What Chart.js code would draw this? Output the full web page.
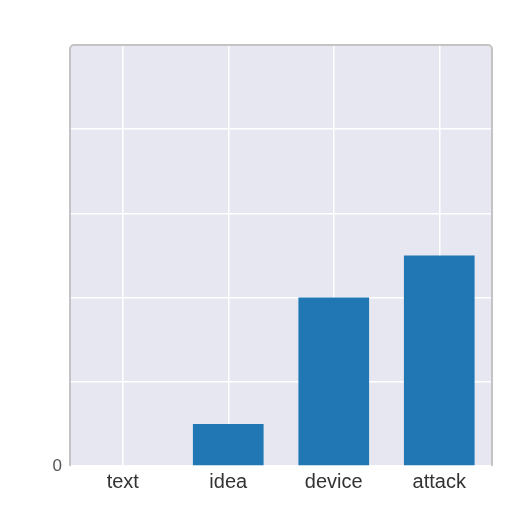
<!DOCTYPE html>
<html>
<head>
<meta charset="UTF-8">
<style>
  html,body{margin:0;padding:0;background:#fff;}
  #wrap{width:512px;height:512px;}
</style>
<script src="https://cdn.jsdelivr.net/npm/chart.js"></script>
</head>
<body>
<div id="wrap"><canvas id="c" width="512" height="512"></canvas></div>
<script>
/* data */
const categories=["text","idea","device","attack"];
const counts=[0,0.5,2,2.5];
const yTicks=[0,1,2,3,4,5];

/* plot background + rounded frame */
const panel={
  id:"panel",
  beforeDraw(ch){
    const {ctx,chartArea:a}=ch;
    ctx.save();
    ctx.fillStyle="#e7e7f1";
    ctx.beginPath();ctx.roundRect(a.left,a.top,a.right-a.left,a.bottom-a.top,4);ctx.fill();
    ctx.restore();
  },
  afterDraw(ch){
    const {ctx,chartArea:a}=ch;
    ctx.save();
    ctx.strokeStyle="#c4c4c4";ctx.lineWidth=2;
    ctx.beginPath();
    ctx.moveTo(a.left,a.bottom);ctx.lineTo(a.left,a.top+4);
    ctx.arcTo(a.left,a.top,a.left+4,a.top,4);
    ctx.lineTo(a.right-4,a.top);
    ctx.arcTo(a.right,a.top,a.right,a.top+4,4);
    ctx.lineTo(a.right,a.bottom);
    ctx.stroke();
    ctx.restore();
  }
};

new Chart(document.getElementById("c"),{
  type:"bar",
  data:{labels:categories,datasets:[{data:counts,backgroundColor:"#2177b4",borderWidth:0,
    barPercentage:0.67,categoryPercentage:1}]},
  options:{
    responsive:false,animation:false,
    layout:{padding:{left:0,top:45,right:20,bottom:0}},
    plugins:{legend:{display:false},tooltip:{enabled:false}},
    scales:{
      x:{
        offset:true,
        grid:{offset:false,color:"#ffffff",lineWidth:1.5,drawTicks:false},
        border:{display:false},
        ticks:{color:"#333",padding:4,font:{family:"Liberation Sans",size:20}},
        afterFit(s){s.height=46;}
      },
      y:{
        min:yTicks[0],max:yTicks[yTicks.length-1],
        afterBuildTicks(s){s.ticks=yTicks.map(v=>({value:v}));},
        grid:{color:"#ffffff",lineWidth:1.5,drawTicks:false},
        border:{display:false},
        ticks:{color:"#555",padding:8,font:{family:"Liberation Sans",size:17},
          callback:v=>v===0?"0":""},
        afterFit(s){s.width=70;}
      }
    }
  },
  plugins:[panel]
});
</script>
</body>
</html>
